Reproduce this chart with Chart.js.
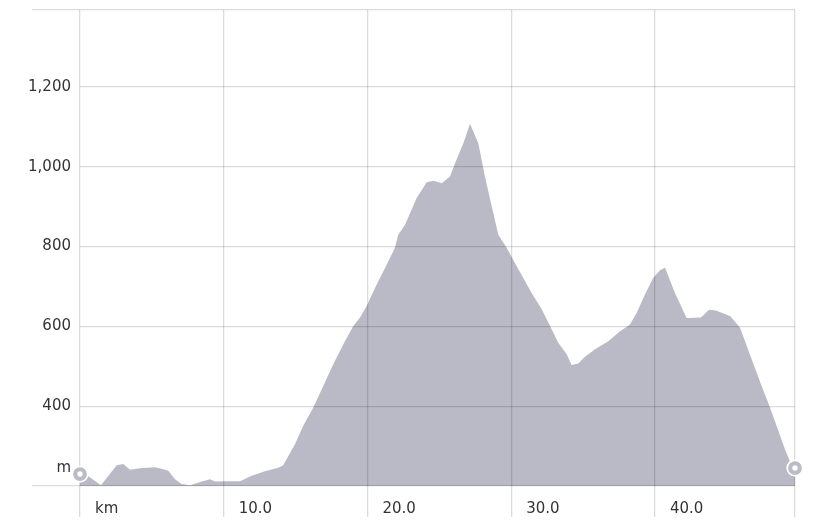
<!DOCTYPE html>
<html>
<head>
<meta charset="utf-8">
<script src="https://cdn.jsdelivr.net/npm/chart.js@4.4.1/dist/chart.umd.min.js"></script>
<style>
  html, body { margin: 0; padding: 0; background: #fff; }
</style>
</head>
<body>
<canvas id="profile" width="828" height="529"></canvas>
<script>
// route profile: distance (km) and elevation (m)
const distKm = [0, 0.56, 1.46, 2.55, 3.01, 3.48, 4.29, 5.22, 5.79, 6.14, 6.61, 7.07, 7.65, 8.47, 9.04, 9.39, 9.97,
  11.13, 11.94, 12.87, 13.8, 14.14, 14.96, 15.53, 16.23, 16.93, 17.62, 18.32, 19.01, 19.48, 19.94, 20.64, 21.34,
  21.91, 22.14, 22.61, 23.42, 24.12, 24.58, 25.16, 25.74, 26.09, 26.67, 27.13, 27.71, 28.17, 28.64, 29.1, 29.68,
  30.38, 31.42, 32.12, 32.7, 33.27, 33.86, 34.2, 34.66, 35.13, 35.83, 36.75, 37.57, 38.26, 38.73, 39.3, 39.88,
  40.35, 40.7, 41.39, 42.2, 43.2, 43.76, 44.24, 45.22, 45.91, 46.68, 47.3, 48.0, 48.52, 49.04, 49.51, 49.74];
const elevM = [230, 225, 202, 252, 255, 241, 245, 247, 242, 238, 217, 205, 202, 211, 217, 211, 212,
  212, 226, 237, 246, 252, 305, 351, 397, 451, 505, 555, 601, 622, 651, 705, 755,
  797, 830, 855, 922, 961, 965, 959, 976, 1009, 1059, 1108, 1059, 976, 901, 830, 797,
  751, 684, 643, 601, 559, 530, 503, 507, 524, 543, 563, 588, 605, 634, 680, 722,
  741, 747, 684, 621, 622, 642, 640, 626, 597, 522, 462, 397, 345, 292, 251, 245];

const xTicks = [0, 10, 20, 30, 40];
const xTickLabels = ["km", "10.0", "20.0", "30.0", "40.0"];
const yTicks = [200, 400, 600, 800, 1000, 1200];
const yTickLabels = ["m", "400", "600", "800", "1,000", "1,200"];
const xMax = 49.74;
const yMin = 200;
const yMax = 1393;

const gridColor = "rgba(0,0,0,0.14)";

const points = distKm.map((d, i) => ({ x: d, y: elevM[i] }));
const ends = [points[0], points[points.length - 1]];

// draw the start/end rings again above the grid
const ringsOnTop = {
  id: "ringsOnTop",
  afterDraw(chart) {
    [1, 2].forEach((i) => chart.getDatasetMeta(i).controller.draw());
  },
};

Chart.defaults.font.family = "'DejaVu Sans', sans-serif";
Chart.defaults.font.size = 15;
Chart.defaults.color = "#333";

new Chart(document.getElementById("profile"), {
  type: "line",
  data: {
    datasets: [
      {
        data: points,
        fill: "start",
        backgroundColor: "#babac6",
        borderWidth: 0,
        pointRadius: 0,
        tension: 0,
        order: 3,
      },
      {
        data: ends,
        showLine: false,
        pointRadius: 8.5,
        pointBorderWidth: 0,
        pointBackgroundColor: "#fff",
        clip: false,
        order: 2,
      },
      {
        data: ends,
        showLine: false,
        pointRadius: 4.8,
        pointBorderWidth: 4.2,
        pointBorderColor: "#bcbcc7",
        pointBackgroundColor: "#fff",
        clip: false,
        order: 1,
      },
    ],
  },
  options: {
    responsive: false,
    animation: false,
    layout: { padding: { top: 10, right: 33, left: 0, bottom: 0 } },
    plugins: { legend: { display: false }, tooltip: { enabled: false } },
    scales: {
      x: {
        type: "linear",
        min: 0,
        max: xMax,
        afterBuildTicks: (s) => {
          s.ticks = [...xTicks, xMax].map((v) => ({ value: v }));
        },
        afterFit: (s) => {
          s.height = 43;
        },
        border: { display: false },
        grid: { z: 1, color: gridColor, tickColor: gridColor, tickLength: 31, lineWidth: 1.3 },
        ticks: {
          align: "start",
          labelOffset: 15,
          padding: -17,
          maxRotation: 0,
          autoSkip: false,
          callback: (v, i) => xTickLabels[i] ?? "",
        },
      },
      y: {
        min: yMin,
        max: yMax,
        afterBuildTicks: (s) => {
          s.ticks = [...yTicks, yMax].map((v) => ({ value: v }));
        },
        afterFit: (s) => {
          s.width = 80;
        },
        border: { display: false },
        grid: {
          z: 1,
          color: gridColor,
          lineWidth: 1.3,
          tickLength: 48,
          tickColor: (ctx) =>
            ctx.tick && (ctx.tick.value === yMin || ctx.tick.value === yMax) ? gridColor : "transparent",
        },
        ticks: {
          padding: -39,
          autoSkip: false,
          callback: (v, i) => (i === 0 ? [yTickLabels[0], "", ""] : yTickLabels[i] ?? ""),
        },
      },
    },
  },
  plugins: [ringsOnTop],
});
</script>
</body>
</html>
